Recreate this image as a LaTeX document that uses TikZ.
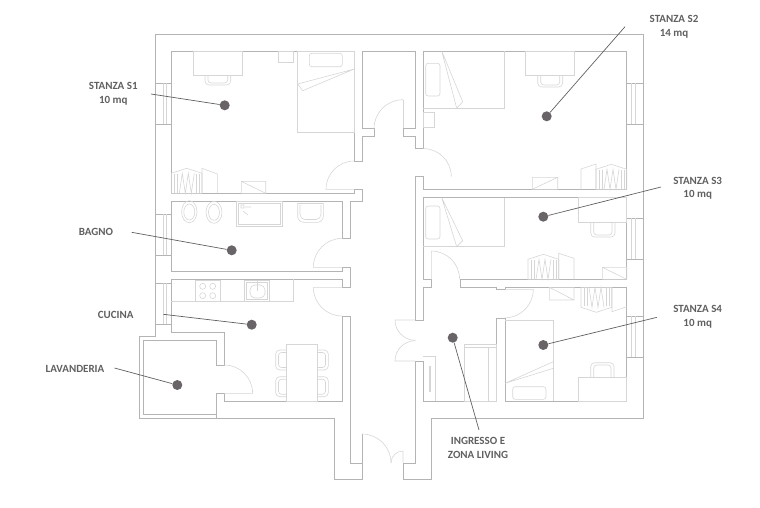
\documentclass[tikz,border=0pt]{standalone}
\usepackage{fontspec}
\setmainfont{Carlito}
\usepackage{xcolor}
\definecolor{grigiomuro}{HTML}{B4B4B4}
\definecolor{grigioarredo}{HTML}{D6D6D6}
\definecolor{grigiotesto}{HTML}{606060}
\definecolor{grigiopunto}{HTML}{696468}
\tikzstyle{muro} = [
  draw=grigiomuro,
  line width=0.75pt,
  line join=miter,
]
\tikzstyle{arredo} = [
  draw=grigioarredo,
  line width=0.6pt,
]
\tikzstyle{linea} = [
  draw=grigiotesto,
  line width=0.7pt,
]
\tikzstyle{punto} = [
  circle,
  inner sep=0pt,
  minimum size=10pt,
  fill=grigiopunto,
]
\tikzstyle{etichetta} = [
  font=\fontsize{11}{13.5}\selectfont\bfseries,
  text=grigiotesto,
  align=center,
  inner sep=0pt,
]
% armadio: x sinistra, y base, verso (1 in su, -1 in giu)
\newcommand{\armadio}[3]{
  \draw[arredo] (#1,#2) -- (#1,{#2-20*#3}) -- ({#1+15.35},{#2-25*#3}) -- ({#1+30.7},{#2-20*#3}) -- ({#1+30.7},#2) -- cycle;
  \draw[arredo] ({#1+3},#2) -- ({#1+3},{#2-19*#3}) ({#1+6},#2) -- ({#1+6},{#2-19*#3}) ({#1+25},#2) -- ({#1+25},{#2-19*#3}) ({#1+28},#2) -- ({#1+28},{#2-19*#3});
  \draw[arredo] ({#1+8},#2) -- ({#1+11},{#2-20*#3}) -- ({#1+14},#2) -- ({#1+17},{#2-20*#3}) -- ({#1+20},#2) -- ({#1+23},{#2-20*#3});
}
\begin{document}
\begin{tikzpicture}[x=1pt,y=-1pt]
    \useasboundingbox (0,0) rectangle (760,507);

    %% muri
    \draw[muro] (362,434) -- (362,479) -- (334,479) -- (334,418.3) -- (139,418.3) -- (139,336) -- (155.3,336) -- (155.3,34.3) -- (643.3,34.3) -- (643.3,418.3) -- (431.3,418.3) -- (431.3,479) -- (403,479) -- (403,463) -- (415.3,463) -- (415.3,361) -- (423.3,361) -- (423.3,401.3) -- (496.7,401.3) -- (496.7,318.3) -- (505,318.3) -- (505,401.3) -- (626.7,401.3) -- (626.7,287.3) -- (505,287.3) -- (505,289.3) -- (496.7,289.3) -- (496.7,287.3) -- (460,287.3) -- (460,279.3) -- (626.7,279.3) -- (626.7,197.7) -- (423.3,197.7) -- (423.3,279.3) -- (431.3,279.3) -- (431.3,287.3) -- (423.3,287.3) -- (423.3,320) -- (415.3,320) -- (415.3,176.6) -- (423.3,176.6) -- (423.3,189.3) -- (626.7,189.3) -- (626.7,51) -- (423.3,51) -- (423.3,148.6) -- (415.3,148.6) -- (415.3,136.3) -- (403,136.3) -- (403,128) -- (415.3,128) -- (415.3,51) -- (362,51) -- (362,128) -- (374,128) -- (374,136.6) -- (362,136.6) -- (362,161) -- (354.3,161) -- (354.3,51) -- (171.3,51) -- (171.3,193.3) -- (354.3,193.3) -- (354.3,189.3) -- (362,189.3) -- (362,201.7) -- (350,201.7) -- (350,238.3) -- (342.3,238.3) -- (342.3,201.7) -- (171.3,201.7) -- (171.3,271.3) -- (342.3,271.3) -- (342.3,267.3) -- (350,267.3) -- (350,287.3) -- (342.3,287.3) -- (342.3,279.3) -- (171.3,279.3) -- (171.3,332.7) -- (224.3,332.7) -- (224.3,365) -- (216.7,365) -- (216.7,340) -- (143.3,340) -- (143.3,414.3) -- (216.7,414.3) -- (216.7,393.3) -- (224.3,393.3) -- (224.3,401.3) -- (342.3,401.3) -- (342.3,316) -- (350,316) -- (350,463) -- (362,463);
    \draw[muro] (216.7,414.3) -- (216.7,418.3);
    \draw[arredo] (403,128) -- (403,100);

    %% finestre
    \draw[muro] (155.3,83.3) -- (171.3,83.3) (155.3,124.3) -- (171.3,124.3);
    \draw[arredo] (163.3,83.3) -- (163.3,124.3) (166,83.3) -- (166,124.3);
    \draw[muro] (155.3,214.3) -- (171.3,214.3) (155.3,255) -- (171.3,255);
    \draw[arredo] (163.3,214.3) -- (163.3,255) (166,214.3) -- (166,255);
    \draw[muro] (155.3,283.3) -- (171.3,283.3) (155.3,324.3) -- (171.3,324.3);
    \draw[arredo] (163.3,283.3) -- (163.3,324.3) (166,283.3) -- (166,324.3);
    \draw[muro] (626.7,83.3) -- (643.3,83.3) (626.7,124.3) -- (643.3,124.3);
    \draw[arredo] (631.7,83.3) -- (631.7,124.3) (635,83.3) -- (635,124.3);
    \draw[muro] (626.7,218.3) -- (643.3,218.3) (626.7,259.3) -- (643.3,259.3);
    \draw[arredo] (631.7,218.3) -- (631.7,259.3) (635,218.3) -- (635,259.3);
    \draw[muro] (626.7,316) -- (643.3,316) (626.7,357.3) -- (643.3,357.3);
    \draw[arredo] (631.7,316) -- (631.7,357.3) (635,316) -- (635,357.3);

    %% porte
    \draw[arredo] (403,99.7) arc[start angle=90, end angle=180, radius=29pt];
    \draw[arredo] (423.3,148.6) arc[start angle=90, end angle=0, radius=28pt];
    \draw[arredo] (354.3,161) arc[start angle=90, end angle=180, radius=28.3pt] -- (354.3,189.3);
    \draw[arredo] (342.3,238.3) arc[start angle=90, end angle=180, radius=29pt] -- (342.3,267.3);
    \draw[arredo] (313.3,287.3) arc[start angle=180, end angle=270, radius=28.7pt] (313.3,287.3) -- (342.3,287.3);
    \draw[arredo] (224.3,365) arc[start angle=90, end angle=0, radius=28.3pt] -- (224.3,393.3);
    \draw[arredo] (431.3,251) -- (431.3,279.3) (431.3,251) arc[start angle=90, end angle=0, radius=28.3pt];
    \draw[arredo] (505,289.3) -- (533.3,289.3) arc[start angle=0, end angle=-90, radius=28.6pt];
    \draw[arredo] (415.3,320) -- (395,320) arc[start angle=180, end angle=270, radius=20.3pt];
    \draw[arredo] (415.3,361) -- (395,361) arc[start angle=180, end angle=90, radius=20.3pt];
    \draw[arredo] (362,434) arc[start angle=90, end angle=0, radius=29pt];
    \draw[arredo] (391,463) arc[start angle=180, end angle=90, radius=12pt] -- (403,463);

    %% stanza S1
    \draw[arredo] (193.3,51) rectangle (242.7,75.3);
    \draw[arredo, rounded corners=4pt] (205,75.3) -- (205,85) -- (230.7,85) -- (230.7,75.3);
    \draw[arredo, rounded corners=3pt] (208,75.3) -- (208,83) -- (227.7,83) -- (227.7,75.3);
    \draw[arredo] (278,51) rectangle (293.7,62.3);
    \draw[arredo] (297.3,51) rectangle (354.3,132.3);
    \draw[arredo, rounded corners=2.5pt] (309.3,53.3) rectangle (342.3,66.7);
    \draw[arredo] (354.3,69) -- (297.7,84) -- (302.7,90.7) -- cycle;
    \armadio{171.3}{193.3}{1}
    \draw[arredo] (202,193.3) -- (202,168.3) -- (217.3,174) -- (217.3,193.3);
    \draw[arredo] (241.3,181.3) rectangle (265.7,193.3) (241.3,181.3) -- (265.7,193.3);

    %% stanza S2
    \draw[arredo] (423.3,108.3) -- (504.7,108.3) -- (504.7,51);
    \draw[arredo, rounded corners=2.5pt] (425.7,63.3) rectangle (440,96);
    \draw[arredo] (441.7,51) -- (462.7,101.7) -- (456.7,108.3) -- cycle;
    \draw[arredo] (423.3,112.3) rectangle (434.7,127.3);
    \draw[arredo] (525.3,51) rectangle (574.3,75.3);
    \draw[arredo, rounded corners=4pt] (537.7,75.3) -- (537.7,87) -- (562.7,87) -- (562.7,75.3);
    \draw[arredo, rounded corners=3pt] (540.7,75.3) -- (540.7,85) -- (559.7,85) -- (559.7,75.3);
    \draw[arredo] (532.3,177.3) rectangle (557.7,189.3) (532.3,189.3) -- (557.7,177.3);
    \armadio{596}{189.3}{1}
    \draw[arredo] (581,189.3) -- (581,169) -- (596,164) -- (596,189.3);

    %% bagno
    \draw[arredo] (189.3,211.7) ellipse[x radius=7.7pt, y radius=11pt];
    \draw[arredo] (189.3,212) ellipse[x radius=5.5pt, y radius=8pt];
    \draw[arredo] (214,212.3) ellipse[x radius=8pt, y radius=11pt];
    \draw[arredo] (214,212.3) ellipse[x radius=5.5pt, y radius=8pt];
    \draw[arredo] (236.7,201.7) rectangle (282,226);
    \draw[arredo] (238.7,203.7) rectangle (280,224);
    \draw[arredo] (241,205) rectangle (244,208) (245,207) -- (251,207) (243,211) -- (248,215);
    \draw[arredo, rounded corners=6pt] (297.7,203) -- (297.7,222.3) -- (323.3,222.3) -- (323.3,203);
    \draw[arredo, rounded corners=5pt] (300,205) -- (300,219.5) -- (321,219.5) -- (321,205);
    \draw[arredo] (297.7,203) -- (323.3,203);

    %% cucina
    \draw[arredo] (171.3,301.7) -- (293.7,301.7) -- (293.7,279.3);
    \draw[arredo] (195.7,280) rectangle (220.7,301.7);
    \draw[arredo] (202.7,286.3) circle (3pt) (212.7,286.3) circle (3pt) (202.7,295.7) circle (3pt) (212.7,295.7) circle (3pt);
    \draw[arredo] (244.7,280) rectangle (269.3,301.7);
    \draw[arredo] (246.5,282) rectangle (267.5,299.7);
    \draw[arredo, rounded corners=5pt] (250,285) rectangle (265,298);
    \draw[arredo] (257,281) -- (257,291);
    \draw[arredo] (286.3,344.3) rectangle (317.3,401.3);
    \draw[arredo, rounded corners=4pt] (286.3,350) -- (275.7,350) -- (275.7,370) -- (286.3,370);
    \draw[arredo, rounded corners=3pt] (286.3,352.5) -- (278.5,352.5) -- (278.5,367.5) -- (286.3,367.5);
    \draw[arredo, rounded corners=4pt] (286.3,376.7) -- (275.7,376.7) -- (275.7,396.7) -- (286.3,396.7);
    \draw[arredo, rounded corners=3pt] (286.3,379.2) -- (278.5,379.2) -- (278.5,394.2) -- (286.3,394.2);
    \draw[arredo, rounded corners=4pt] (317.3,350) -- (328.3,350) -- (328.3,370) -- (317.3,370);
    \draw[arredo, rounded corners=3pt] (317.3,352.5) -- (325.5,352.5) -- (325.5,367.5) -- (317.3,367.5);
    \draw[arredo, rounded corners=4pt] (317.3,376.7) -- (328.3,376.7) -- (328.3,396.7) -- (317.3,396.7);
    \draw[arredo, rounded corners=3pt] (317.3,379.2) -- (325.5,379.2) -- (325.5,394.2) -- (317.3,394.2);

    %% stanza S3
    \draw[arredo] (423.3,246.7) -- (504.7,246.7) -- (504.7,197.7);
    \draw[arredo, rounded corners=2.5pt] (425.7,206) rectangle (440,239);
    \draw[arredo] (441.7,197.7) -- (462.7,240.7) -- (456.7,246.7) -- cycle;
    \draw[arredo] (578.3,197.7) rectangle (626.7,222.3);
    \draw[arredo, rounded corners=4pt] (590.7,222.3) -- (590.7,237) -- (615,237) -- (615,222.3);
    \draw[arredo, rounded corners=3pt] (593.7,222.3) -- (593.7,235) -- (612,235) -- (612,222.3);
    \draw[arredo] (602.3,267.3) rectangle (626.7,279.3) (602.3,267.3) -- (626.7,279.3);
    \armadio{528}{279.3}{1}
    \draw[arredo] (558.7,279.3) -- (558.7,253.3) -- (574,258.3) -- (574,279.3);

    %% stanza S4
    \armadio{581}{287.3}{-1}
    \draw[arredo] (612,287.3) -- (612,311.7) -- (626.7,306.7);
    \draw[arredo] (549.3,287.3) rectangle (574,300) (549.3,287.3) -- (574,300);
    \draw[arredo] (505,320) -- (553.7,320) -- (553.7,401.3);
    \draw[arredo] (505,383.3) -- (553.3,361.7) -- (553.3,368.3) -- cycle;
    \draw[arredo, rounded corners=2.5pt] (512.7,386.7) rectangle (546,399.3);
    \draw[arredo] (578.3,377.3) rectangle (626.7,401.3);
    \draw[arredo, rounded corners=4pt] (590.7,377.3) -- (590.7,362.7) -- (614,362.7) -- (614,377.3);
    \draw[arredo, rounded corners=3pt] (593.7,377.3) -- (593.7,365) -- (611,365) -- (611,377.3);

    %% ingresso
    \draw[arredo] (464,344.3) rectangle (496.7,401.3);
    \draw[arredo] (464,347.7) -- (496.7,347.7) (488.3,347.7) -- (488.3,401.3);
    \draw[arredo] (423.3,356.7) -- (435.3,356.7) -- (435.3,401.3);
    \draw[arredo] (429,366.7) rectangle (430.5,391.7);

    %% punti
    \node[punto] (puntoS1) at (224.7,105.3) {};
    \node[punto] (puntoS2) at (546.7,116.3) {};
    \node[punto] (puntoS3) at (543.3,216.7) {};
    \node[punto] (puntoS4) at (543.3,345) {};
    \node[punto] (puntoBagno) at (231.7,250.3) {};
    \node[punto] (puntoCucina) at (251.7,324.7) {};
    \node[punto] (puntoLav) at (177.3,385) {};
    \node[punto] (puntoIngresso) at (452.7,337.7) {};

    %% etichette
    \node[etichetta] (S1) at (113.3,94) {STANZA S1\\10 mq};
    \node[etichetta] (S2) at (674,27) {STANZA S2\\14 mq};
    \node[etichetta] (S3) at (697.7,188.5) {STANZA S3\\10 mq};
    \node[etichetta] (S4) at (697.7,317) {STANZA S4\\10 mq};
    \node[etichetta] (bagno) at (96,231.5) {BAGNO};
    \node[etichetta] (cucina) at (115.7,314.5) {CUCINA};
    \node[etichetta] (lav) at (75,368.5) {LAVANDERIA};
    \node[etichetta] (ingresso) at (478,448) {INGRESSO E\\ZONA LIVING};

    \coordinate (fineS1) at (151,94);
    \coordinate (fineS2) at (625,26.7);
    \coordinate (fineS3) at (661,187);
    \coordinate (fineS4) at (657,317.3);
    \coordinate (fineBagno) at (131.7,232.3);
    \coordinate (fineCucina) at (163.3,314.3);
    \coordinate (fineLav) at (114.5,368);
    \coordinate (fineIngresso) at (479,430);

    \draw[linea] (fineS1) -- (puntoS1);
    \draw[linea] (fineS2) -- (puntoS2);
    \draw[linea] (fineS3) -- (puntoS3);
    \draw[linea] (fineS4) -- (puntoS4);
    \draw[linea] (fineBagno) -- (puntoBagno);
    \draw[linea] (fineCucina) -- (puntoCucina);
    \draw[linea] (fineLav) -- (puntoLav);
    \draw[linea] (fineIngresso) -- (puntoIngresso);
  \end{tikzpicture}
\end{document}
